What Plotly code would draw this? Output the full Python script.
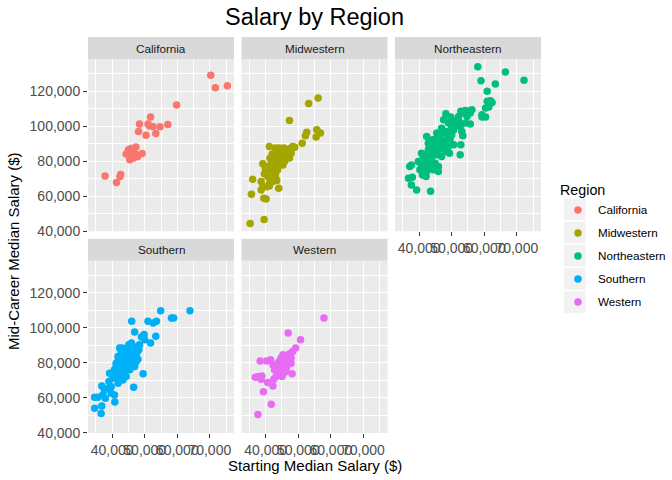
import plotly.graph_objects as go
from plotly.subplots import make_subplots

## DATA (starting / mid-career median salary by region)
regions = ['California', 'Midwestern', 'Northeastern', 'Southern', 'Western']
colors = ['#F8766D', '#A3A500', '#00BF7D', '#00B0F6', '#E76BF3']

ca_start = [70300, 71700, 75400, 59800, 51800, 48400, 51000, 52500, 51500, 54700, 57100, 48100, 50400, 53400,
            47300, 45700, 45000, 44300, 46200, 47200, 49200, 45400, 46600, 47800, 37800, 42600, 42400, 41300]
ca_mid = [129000, 121900, 123000, 112000, 105100, 101100, 101100, 99800, 100000, 99600, 100900, 96900, 94800, 95800,
          88100, 87200, 86400, 84100, 84900, 84000, 84300, 80700, 81700, 82600, 71500, 72300, 71200, 67700]

mw_start = [56100, 53200, 47300, 52600, 52200, 55700, 56800, 55500, 51200, 48300, 41100, 46300, 45300, 42200,
            47300, 39100, 44200, 45300, 43200, 40100, 41700, 42700, 36000, 38600, 38600, 41100, 43400, 44000,
            35600, 39400, 40100, 35200, 39500,
            41700, 42200, 42700, 43200, 43700, 44200, 44700, 45000, 45600, 46100, 46500, 46800, 47100, 47800,
            44200, 43700, 43000, 42000, 40600, 39600, 41100, 40300, 39100, 42200, 43200, 44700, 45800, 45300,
            40900, 39900, 42500, 42000, 41300, 44200, 43400, 43000, 47800, 48900]
mw_mid = [116000, 112900, 103200, 96400, 94400, 97900, 96000, 93700, 90200, 88300, 88300, 86400, 85500, 82600,
          81700, 78400, 80700, 77700, 79700, 73900, 75000, 73100, 69600, 68300, 63500, 65800, 68900, 64500,
          61000, 58700, 58300, 44400, 46700,
          78800, 76900, 75900, 77800, 82600, 83600, 84500, 86400, 87400, 84500, 82600, 85500, 86800, 87400,
          78800, 75000, 71200, 70200, 71200, 72700, 67300, 65400, 65400, 68300, 74000, 81600, 79700, 83000,
          76900, 75900, 80700, 84100, 81600, 87400, 84900, 87400, 84500, 87900]

ne_start = [58000, 66500, 72200, 59000, 63400, 60900, 61900, 60900, 62400, 60400, 61400, 59300, 60400, 59300,
            56200, 54200, 52800, 53700, 55000, 48200, 49700, 52100, 55700, 53100, 53400, 52800, 52600, 50600,
            50000, 49000, 46900, 47500, 42300, 45400, 44900, 43800, 46400, 48000, 49500, 50600, 49000, 47500,
            49300, 45900, 44300, 42800, 40700, 43300, 45400, 46900, 41200, 42500, 43800, 44900, 45900, 41800,
            40700, 41500, 42300, 41000, 43300, 37600, 37100, 36700, 37900, 37600, 39200, 43500, 45900, 44300,
            42800, 44100, 45400, 46400, 48500, 50000, 51600, 51100, 47500, 49000, 50000, 52100, 54700, 55700,
            46400, 48000, 48500, 43300, 44300, 42800, 42100, 40200, 41200, 39700, 45400, 42300, 46900, 54200,
            52600, 43100, 44600]
ne_mid = [133800, 130900, 126100, 125900, 124000, 119800, 114500, 114100, 113500, 110300, 110800, 106500, 105100, 105100,
          109300, 108900, 108400, 107400, 108500, 107000, 105100, 103000, 101100, 96900, 94400, 89300, 83600, 97900,
          95000, 94000, 98800, 96000, 94000, 93100, 91200, 89300, 90200, 91200, 92100, 89300, 88300, 87400,
          84500, 86400, 86400, 86400, 84500, 84500, 83600, 82600, 81700, 80700, 81700, 78800, 76900, 78800,
          77800, 75900, 74000, 72100, 75900, 77800, 76900, 70200, 70800, 66400, 63500, 62800, 74000, 75000,
          90200, 92100, 96000, 94400, 96900, 99800, 102600, 100700, 103600, 101700, 103600, 105500, 105500, 107400,
          87400, 85500, 89300, 78800, 83600, 76900, 71200, 75000, 79700, 79700, 89300, 83600, 92100, 101700,
          99800, 87400, 88300]

so_start = [63900, 54900, 58200, 58900, 46000, 51000, 52600, 53600, 46900, 49000, 49800, 50000, 51800, 53400,
            45100, 42300, 48200, 46900, 47600, 45400, 43800, 42800, 41800, 44500, 46400, 45900, 46900, 44100,
            42800, 41200, 43800, 42300, 40700, 39200, 49500, 46600, 41800, 39000, 36800, 37600, 39700, 40700,
            40800, 37900, 34600, 35600, 34600, 36800, 36600,
            41200, 42300, 43300, 44300, 45200, 46200, 47200, 47900, 48400, 45400, 44300, 42800, 41800, 43300,
            44800, 45400, 42500, 41200, 40200, 39700, 38700, 37100, 44300, 43300, 41800, 40700, 47400, 47900,
            43100, 45900]
so_mid = [109700, 109700, 105600, 105600, 103700, 103700, 102800, 103700, 97600, 94700, 96100, 93200, 91300, 95100,
          90300, 88400, 87500, 88400, 85900, 85600, 84600, 82700, 80800, 82700, 83600, 80800, 77900, 78900,
          76900, 77900, 74100, 72200, 74100, 74100, 73700, 66000, 68300, 69300, 66800, 64500, 62600, 61600,
          57600, 59700, 60300, 60300, 54000, 55300, 51100,
          79800, 80800, 81300, 80800, 83600, 85900, 84600, 89400, 90300, 87500, 87500, 86500, 83600, 78900,
          77900, 76000, 75000, 72200, 71200, 66400, 65500, 61600, 72200, 70200, 76000, 76000, 80800, 82100,
          88400, 91300]

we_start = [57900, 46900, 50700, 49200, 48300, 47300, 46300, 45300, 44700, 38300, 40300, 41500, 42200, 43200,
            44200, 45800, 46500, 47800, 48100, 45000, 45500, 43700, 36800, 37800, 38800, 38600, 42500, 40600,
            42200, 39300, 41700, 37600,
            44200, 45300, 43700, 44700, 42700, 46800, 45800, 47800, 46300, 43200]
we_mid = [105600, 97000, 93200, 88400, 86500, 85200, 83600, 84600, 82700, 81100, 81100, 81700, 78900, 77500,
          78900, 79800, 77900, 82700, 73700, 72200, 74100, 75000, 71800, 72200, 72500, 70600, 70600, 68700,
          66800, 63500, 56300, 50500,
          80800, 81700, 79800, 76900, 76000, 80800, 76900, 79800, 75000, 72200]

xs = [ca_start, mw_start, ne_start, so_start, we_start]
ys = [ca_mid, mw_mid, ne_mid, so_mid, we_mid]
cells = [(1, 1), (1, 2), (1, 3), (2, 1), (2, 2)]

## FIGURE
fig = make_subplots(rows=2, cols=3, specs=[[{}, {}, {}], [{}, {}, None]])

for name, col, x, y, (r, c) in zip(regions, colors, xs, ys, cells):
    fig.add_trace(go.Scatter(x=x, y=y, mode='markers', name=name, legendgroup=name,
                             marker=dict(color=col, size=7.5, line=dict(width=0))),
                  row=r, col=c)

# fixed scales with ggplot-like 5% expansion
all_x = sum(xs, [])
all_y = sum(ys, [])
xpad = (max(all_x) - min(all_x)) * 0.05
ypad = (max(all_y) - min(all_y)) * 0.05
xr = [min(all_x) - xpad, max(all_x) + xpad]
yr = [min(all_y) - ypad, max(all_y) + ypad]

col_dom = [[0, 0.3223], [0.3389, 0.6612], [0.6777, 1]]
row_dom = {1: [0.50947, 0.94444], 2: [0, 0.43497]}
tickfont = dict(family='Liberation Sans', size=14, color='#4D4D4D')

for i, (r, c) in enumerate(cells):
    sfx = '' if i == 0 else str(i + 1)
    show_x = (r == 2) or (c == 3)
    show_y = (c == 1)
    fig.layout['xaxis' + sfx].update(
        domain=col_dom[c - 1], range=xr, tick0=40000, dtick=10000, tickformat=',', tickangle=0,
        showgrid=True, gridcolor='white', gridwidth=1.3, zeroline=False, showline=False, automargin=False,
        minor=dict(dtick=5000, tick0=35000, showgrid=True, gridcolor='white', gridwidth=0.7),
        showticklabels=show_x, ticks='outside' if show_x else '', ticklen=4, tickwidth=1,
        tickcolor='#333333', tickfont=tickfont)
    fig.layout['yaxis' + sfx].update(
        domain=row_dom[r], range=yr, tick0=40000, dtick=20000, tickformat=',',
        showgrid=True, gridcolor='white', gridwidth=1.3, zeroline=False, showline=False, automargin=False,
        minor=dict(dtick=10000, tick0=50000, showgrid=True, gridcolor='white', gridwidth=0.7),
        showticklabels=show_y, ticks='outside' if show_y else '', ticklen=4, tickwidth=1,
        tickcolor='#333333', tickfont=tickfont)
    # facet strip
    xref = 'x' + sfx
    yref = 'y' + sfx
    fig.add_shape(type='rect', xref=xref + ' domain', yref=yref + ' domain',
                  x0=0, x1=1, y0=1, y1=1 + 22 / 172.25, fillcolor='#D9D9D9', line=dict(width=0), layer='below')
    fig.add_annotation(text=regions[i], xref=xref + ' domain', yref=yref + ' domain',
                       x=0.5, y=1 + 11 / 172.25, xanchor='center', yanchor='middle', showarrow=False,
                       font=dict(family='Liberation Sans', size=11.7, color='#1A1A1A'))

# grey legend key backgrounds (ggplot style)
for k in range(len(regions)):
    yc = (433 - (209.3 + 23.2 * k)) / 396
    fig.add_shape(type='rect', xref='paper', yref='paper', x0=1.0508, x1=1.0987,
                  y0=yc - 0.0272, y1=yc + 0.0272, fillcolor='#F2F2F2', line=dict(width=0), layer='below')

# axis titles
fig.add_annotation(text='Starting Median Salary ($)', xref='paper', yref='paper', x=0.5, y=-0.081,
                   xanchor='center', yanchor='middle', showarrow=False,
                   font=dict(family='Liberation Sans', size=15, color='black'))
fig.add_annotation(text='Mid-Career Median Salary ($)', xref='paper', yref='paper', x=-0.1634, y=0.4596,
                   xanchor='center', yanchor='middle', textangle=-90, showarrow=False,
                   font=dict(family='Liberation Sans', size=15, color='black'))

fig.update_layout(
    width=672, height=480,
    margin=dict(l=88, r=131, t=37, b=47, autoexpand=False),
    paper_bgcolor='white', plot_bgcolor='#EBEBEB',
    title=dict(text='Salary by Region', x=0.5, xref='paper', xanchor='center',
               y=1 - 16.5 / 480, yref='container', yanchor='middle',
               font=dict(family='Liberation Sans', size=23.5, color='black')),
    legend=dict(title=dict(text='Region', font=dict(family='Liberation Sans', size=14.3, color='black')),
                font=dict(family='Liberation Sans', size=11.7, color='black'),
                x=1.0375, xanchor='left', y=0.647, yanchor='top', tracegroupgap=4,
                bgcolor='rgba(0,0,0,0)'),
    showlegend=True,
)

# drop the default page margin so the 672x480 figure fills the window exactly
fig.write_html("out.html", config={'displayModeBar': False},
               post_script="document.body.style.margin='0px';")
